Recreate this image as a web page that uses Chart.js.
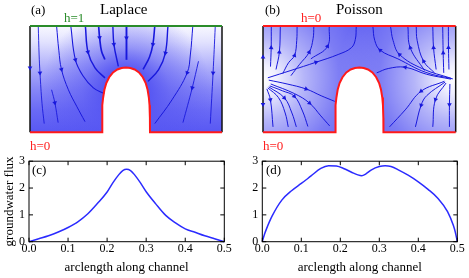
<!DOCTYPE html>
<html>
<head>
<meta charset="utf-8">
<title>Laplace / Poisson groundwater flux</title>
<script src="https://cdn.jsdelivr.net/npm/chart.js@4"></script>
<style>
body{margin:0;background:#fff;}
#fig{position:relative;width:469px;height:278px;overflow:hidden;font-family:"Liberation Serif","DejaVu Serif",serif;}
#fig canvas{position:absolute;}
.lbl{position:absolute;line-height:1;white-space:nowrap;color:#000;}
</style>
</head>
<body>
<div id="fig">
<canvas id="pa" width="212" height="122" style="left:20px;top:16px"></canvas>
<canvas id="pb" width="212" height="122" style="left:253px;top:16px"></canvas>
<canvas id="pc" width="235" height="128" style="left:0px;top:150px"></canvas>
<canvas id="pd" width="229" height="128" style="left:240px;top:150px"></canvas>

<div class="lbl" style="left:31px;top:3px;font-size:13px">(a)</div>
<div class="lbl" style="left:100px;top:2px;font-size:15px">Laplace</div>
<div class="lbl" style="left:64px;top:11px;font-size:13px;color:#2a8c2a">h=1</div>
<div class="lbl" style="left:30px;top:139px;font-size:13px;color:#ff2020">h=0</div>

<div class="lbl" style="left:265px;top:3px;font-size:13px">(b)</div>
<div class="lbl" style="left:336px;top:2px;font-size:15px">Poisson</div>
<div class="lbl" style="left:301px;top:11px;font-size:13px;color:#ff2020">h=0</div>
<div class="lbl" style="left:263px;top:139px;font-size:13px;color:#ff2020">h=0</div>

<div class="lbl" style="left:32px;top:163px;font-size:13px">(c)</div>
<div class="lbl" style="left:266px;top:163px;font-size:13px">(d)</div>
</div>

<script>
// channel geometry (domain 0..2 wide, 0..1.1 high), arch
const archX = [0.75,0.751,0.755,0.762,0.775,0.795,0.825,0.865,0.91,0.955,1.0,1.045,1.09,1.135,1.175,1.205,1.225,1.238,1.245,1.249,1.25];
const archY = [0,0.15,0.28,0.36,0.44,0.51,0.57,0.62,0.65,0.665,0.67,0.665,0.65,0.62,0.57,0.51,0.44,0.36,0.28,0.15,0];
const domW = 2, domH = 1.1;

// streamlines, panel (a) Laplace, ordered along the flow
const laplaceLines = [
 [[0.086,1.1],[0.095,0.8],[0.104,0.615],[0.125,0.3],[0.148,0.09]],
 [[0.277,1.1],[0.30,0.85],[0.328,0.65],[0.40,0.44],[0.486,0.27],[0.573,0.11]],
 [[0.425,1.1],[0.473,0.75],[0.555,0.58],[0.66,0.46],[0.774,0.40]],
 [[0.577,1.1],[0.604,0.83],[0.677,0.667],[0.781,0.563]],
 [[0.715,1.1],[0.725,0.98],[0.745,0.84],[0.78,0.753]],
 [[0.863,1.1],[0.874,0.91],[0.92,0.683]],
 [[0.225,0.44],[0.259,0.305],[0.293,0.10]],
 [[1.005,1.1],[1.005,0.978],[1.005,0.75]],
 [[1.30,1.1],[1.28,0.91],[1.245,0.78],[1.178,0.65]],
 [[1.437,1.1],[1.41,0.82],[1.34,0.649],[1.229,0.527]],
 [[1.696,1.1],[1.67,0.8],[1.637,0.615],[1.479,0.336],[1.30,0.09]],
 [[1.755,0.735],[1.69,0.46],[1.593,0.1]],
 [[1.93,1.1],[1.907,0.615],[1.878,0.09]]
];
const laplaceArrowAt = [2,2,1,1,1,1,1,1,1,1,2,1,1];
const laplaceWallArrows = [[0,0.667,-1]];

// streamlines, panel (b) Poisson
const poissonLines = [
 [[0.078,0.68],[0.085,0.875],[0.086,1.1]],
 [[0.135,0.65],[0.17,0.83],[0.18,1.1]],
 [[0.205,0.607],[0.265,0.72],[0.327,0.795],[0.35,0.95],[0.354,1.1]],
 [[0.29,0.586],[0.377,0.70],[0.48,0.83],[0.52,0.97],[0.528,1.1]],
 [[0.497,0.76],[0.67,0.89],[0.688,1.1]],
 [[0.05,0.564],[0.29,0.64],[0.55,0.725],[0.78,0.805],[0.917,0.875],[0.958,0.96],[0.968,1.1]],
 [[0.06,0.54],[0.25,0.50],[0.448,0.448],[0.604,0.378],[0.745,0.32]],
 [[0.08,0.5],[0.327,0.40],[0.483,0.302],[0.60,0.17],[0.692,0.066]],
 [[0.07,0.48],[0.2,0.43],[0.325,0.373],[0.41,0.22],[0.466,0.06]],
 [[0.06,0.47],[0.222,0.356],[0.30,0.2],[0.346,0.056]],
 [[0.05,0.46],[0.16,0.36],[0.23,0.2],[0.262,0.056]],
 [[0.04,0.45],[0.077,0.336],[0.104,0.056]],
 [[1.97,0.553],[1.69,0.62],[1.40,0.76],[1.216,0.85],[1.16,0.95],[1.14,1.1]],
 [[1.95,0.56],[1.658,0.657],[1.417,0.805],[1.35,0.95],[1.323,1.1]],
 [[1.676,0.64],[1.528,0.875],[1.503,1.1]],
 [[1.78,0.615],[1.667,0.735],[1.60,0.95],[1.59,1.1]],
 [[1.797,0.65],[1.77,0.875],[1.762,1.1]],
 [[1.876,0.615],[1.87,0.82],[1.865,1.1]],
 [[1.93,0.65],[1.925,0.875],[1.924,1.1]],
 [[1.95,0.55],[1.70,0.60],[1.476,0.673],[1.30,0.66],[1.18,0.615]],
 [[1.883,0.528],[1.641,0.425],[1.476,0.232],[1.313,0.056]],
 [[1.89,0.52],[1.70,0.38],[1.641,0.28],[1.582,0.056]],
 [[1.90,0.51],[1.79,0.339],[1.762,0.056]],
 [[1.94,0.50],[1.935,0.287],[1.935,0.056]]
];
const poissonArrowAt = [1,1,2,2,1,2,2,2,2,1,-1,1,3,2,1,1,1,1,1,2,1,2,1,1];
const poissonWallArrows = [[0,0.777,1],[0,0.29,-1]];

// groundwater flux along the channel
const arcC  = [0,0.025,0.05,0.075,0.1,0.125,0.15,0.175,0.2,0.215,0.23,0.24,0.25,0.26,0.27,0.285,0.3,0.325,0.35,0.375,0.4,0.425,0.45,0.475,0.5];
const fluxC = [0,0.11,0.22,0.36,0.53,0.74,1.03,1.42,1.85,2.2,2.5,2.65,2.70,2.65,2.5,2.2,1.86,1.4,0.98,0.7,0.48,0.35,0.22,0.11,0];
const arcD  = [0,0.005,0.01,0.025,0.05,0.075,0.1,0.125,0.15,0.17,0.19,0.21,0.23,0.245,0.255,0.265,0.28,0.3,0.315,0.33,0.35,0.375,0.4,0.425,0.45,0.475,0.49,0.495,0.5];
const fluxD = [0,0.25,0.45,0.95,1.55,1.9,2.17,2.45,2.73,2.83,2.82,2.72,2.58,2.49,2.46,2.52,2.68,2.8,2.83,2.8,2.67,2.47,2.23,1.95,1.62,1.12,0.6,0.35,0];
const xTicks = [0,0.1,0.2,0.3,0.4,0.5];
const yTicks = [0,1,2,3];

const serif = '"Liberation Serif", "DejaVu Serif", serif';
const streamBlue = '#1818dc';
const red = '#ff1a1a';

const pts = a => a.map(p => ({x: p[0], y: p[1]}));
// fresh copy each call so no two datasets share one data array
const bottomEdge = () => [{x: 0, y: 0}, ...archX.map((x, i) => ({x, y: archY[i]})), {x: domW, y: 0}];

function arrowAngle(c) {
  const d = c.dataset.data, i = c.dataIndex;
  const p = d[Math.max(i - 1, 0)], q = d[Math.min(i + 1, d.length - 1)];
  const sx = c.chart.scales.x, sy = c.chart.scales.y;
  const dx = sx.getPixelForValue(q.x) - sx.getPixelForValue(p.x);
  const dy = sy.getPixelForValue(q.y) - sy.getPixelForValue(p.y);
  return Math.atan2(dx, -dy) * 180 / Math.PI;
}

function streamSets(lines, arrowAt, widths) {
  return lines.map((l, k) => ({
    data: pts(l), showLine: true, tension: 0.4, fill: false,
    borderColor: streamBlue, borderWidth: widths[k],
    pointStyle: 'triangle', pointBackgroundColor: streamBlue, pointBorderColor: streamBlue, pointBorderWidth: 0,
    pointRadius: c => c.dataIndex === arrowAt[k] ? 2.7 : 0,
    pointRotation: arrowAngle, order: 5, clip: false
  }));
}

function wallSet(arrows) {
  return {
    data: arrows.map(a => ({x: a[0], y: a[1]})), showLine: false,
    pointStyle: 'triangle', pointBackgroundColor: streamBlue, pointBorderColor: streamBlue, pointBorderWidth: 0,
    pointRadius: 2.7, pointRotation: c => arrows[c.dataIndex][2] > 0 ? 0 : 180,
    order: 1, clip: false
  };
}

function edge(data, color, w) {
  return {data, showLine: true, fill: false, borderColor: color, borderWidth: w, pointRadius: 0, tension: 0, order: 2, clip: false};
}

// field shading: the channel floor + arch filled up to the top of the domain.
// gradient centres are placed from the chart area (domain units -> pixels)
function fillSet(makeFill, order) {
  return {data: bottomEdge(), showLine: true, borderWidth: 1, borderColor: 'rgba(0,0,0,0)', pointRadius: 0, tension: 0,
          fill: 'end', backgroundColor: c => {
            const ch = c.chart, a = ch.chartArea;
            if (!a) return 'rgba(0,0,0,0)';
            const px = v => a.left + v / domW * (a.right - a.left);
            const py = v => a.bottom - v / domH * (a.bottom - a.top);
            return makeFill(ch.ctx, a, px, py);
          }, order, clip: false};
}

// Laplace shading: light at h=1 (top), blue at h=0 (bottom and arch)
function laplaceBase(ctx, a) {
  const g = ctx.createLinearGradient(0, a.top, 0, a.bottom);
  g.addColorStop(0, 'rgb(248,248,255)');
  g.addColorStop(0.15, 'rgb(226,226,254)');
  g.addColorStop(0.4, 'rgb(172,172,250)');
  g.addColorStop(0.6, 'rgb(134,134,247)');
  g.addColorStop(0.8, 'rgb(105,105,245)');
  g.addColorStop(1, 'rgb(88,88,243)');
  return g;
}
function laplaceArch(ctx, a, px, py) {
  const cx = px(1.0), cy = py(0.42);
  const g = ctx.createRadialGradient(cx, cy, 22, cx, cy, 85);
  g.addColorStop(0, 'rgba(84,84,242,0.95)');
  g.addColorStop(0.35, 'rgba(84,84,242,0.5)');
  g.addColorStop(1, 'rgba(84,84,242,0)');
  return g;
}
// Poisson shading: h highest (white) at the no-flux walls
function poissonBase() { return 'rgb(92,92,242)'; }
function poissonWall(xv) {
  return (ctx, a, px, py) => {
    const cx = px(xv), cy = py(0.55);
    const g = ctx.createRadialGradient(cx, cy, 0, cx, cy, 118);
    g.addColorStop(0, 'rgba(255,255,255,1)');
    g.addColorStop(0.12, 'rgba(255,255,255,0.9)');
    g.addColorStop(0.35, 'rgba(255,255,255,0.55)');
    g.addColorStop(0.65, 'rgba(255,255,255,0.2)');
    g.addColorStop(1, 'rgba(255,255,255,0)');
    return g;
  };
}

function fieldChart(id, datasets, pad) {
  return new Chart(document.getElementById(id), {
    type: 'scatter',
    data: {datasets},
    options: {
      responsive: false, animation: false, events: [],
      layout: {padding: pad},
      plugins: {legend: {display: false}, tooltip: {enabled: false}},
      scales: {
        x: {type: 'linear', min: 0, max: domW, display: false},
        y: {type: 'linear', min: 0, max: domH, display: false}
      }
    }
  });
}

const laplaceWidths = [0.9,1.0,1.1,1.5,1.7,1.4,0.9,1.9,1.6,1.4,1.0,0.9,0.9];
fieldChart('pa', [
  fillSet(laplaceBase, 10),
  fillSet(laplaceArch, 9),
  ...streamSets(laplaceLines, laplaceArrowAt, laplaceWidths),
  wallSet(laplaceWallArrows),
  edge(bottomEdge(), red, 2),
  edge([{x: 0, y: domH}, {x: domW, y: domH}], '#2a8c2a', 2),
  edge([{x: 0, y: 0}, {x: 0, y: domH}], '#111', 1.5),
  edge([{x: domW, y: 0}, {x: domW, y: domH}], '#111', 1.5)
], {left: 10, right: 10, top: 10, bottom: 5.7});

const poissonWidths = poissonLines.map(() => 1.0);
fieldChart('pb', [
  fillSet(poissonBase, 10),
  fillSet(poissonWall(0), 9),
  fillSet(poissonWall(domW), 8),
  ...streamSets(poissonLines, poissonArrowAt, poissonWidths),
  wallSet(poissonWallArrows),
  edge(bottomEdge(), red, 2),
  edge([{x: 0, y: domH}, {x: domW, y: domH}], red, 2),
  edge([{x: 0, y: 0}, {x: 0, y: domH}], '#111', 1.5),
  edge([{x: domW, y: 0}, {x: domW, y: domH}], '#111', 1.5)
], {left: 10, right: 9.3, top: 10, bottom: 5.7});

// box with inward ticks on all four sides
const framePlugin = {
  id: 'frame',
  afterDraw(chart) {
    const {ctx, chartArea: a, scales} = chart;
    ctx.save();
    ctx.strokeStyle = '#000';
    ctx.lineWidth = 1;
    ctx.strokeRect(a.left, a.top, a.right - a.left, a.bottom - a.top);
    ctx.beginPath();
    scales.x.ticks.forEach(t => {
      const p = scales.x.getPixelForValue(t.value);
      ctx.moveTo(p, a.bottom); ctx.lineTo(p, a.bottom - 4);
      ctx.moveTo(p, a.top); ctx.lineTo(p, a.top + 4);
    });
    scales.y.ticks.forEach(t => {
      const p = scales.y.getPixelForValue(t.value);
      ctx.moveTo(a.left, p); ctx.lineTo(a.left + 4, p);
      ctx.moveTo(a.right, p); ctx.lineTo(a.right - 4, p);
    });
    ctx.stroke();
    ctx.restore();
  }
};

function fluxChart(id, xs, ys, yTitle, yWidth, padRight) {
  return new Chart(document.getElementById(id), {
    type: 'scatter',
    data: {datasets: [{
      data: xs.map((x, i) => ({x, y: ys[i]})), showLine: true,
      borderColor: '#2b2bff', borderWidth: 1.5, pointRadius: 0,
      cubicInterpolationMode: 'monotone', clip: false
    }]},
    options: {
      responsive: false, animation: false, events: [],
      layout: {padding: {top: 11, right: padRight, left: 0, bottom: 0}},
      plugins: {legend: {display: false}, tooltip: {enabled: false}},
      scales: {
        x: {
          type: 'linear', min: 0, max: 0.5,
          afterBuildTicks: s => { s.ticks = xTicks.map(v => ({value: v})); },
          afterFit: s => { s.height = 36.3; },
          ticks: {callback: v => v.toFixed(1), color: '#000', font: {family: serif, size: 12}, padding: 0, maxRotation: 0, autoSkip: false},
          grid: {display: false, drawTicks: false},
          border: {display: false},
          title: {display: true, text: 'arclength along channel', color: '#000', font: {family: serif, size: 13}, padding: {top: 0, bottom: 3}}
        },
        y: {
          type: 'linear', min: 0, max: 3,
          afterBuildTicks: s => { s.ticks = yTicks.map(v => ({value: v})); },
          afterFit: s => { s.width = yWidth; },
          ticks: {color: '#000', font: {family: serif, size: 12}, padding: 4},
          grid: {display: false, drawTicks: false},
          border: {display: false},
          title: {display: !!yTitle, text: yTitle, color: '#000', font: {family: serif, size: 13}, padding: {top: 2, bottom: 0}}
        }
      }
    },
    plugins: [framePlugin]
  });
}

fluxChart('pc', arcC, fluxC, 'groundwater flux', 29, 10.7);
fluxChart('pd', arcD, fluxD, '', 22.3, 11.7);
</script>
</body>
</html>
